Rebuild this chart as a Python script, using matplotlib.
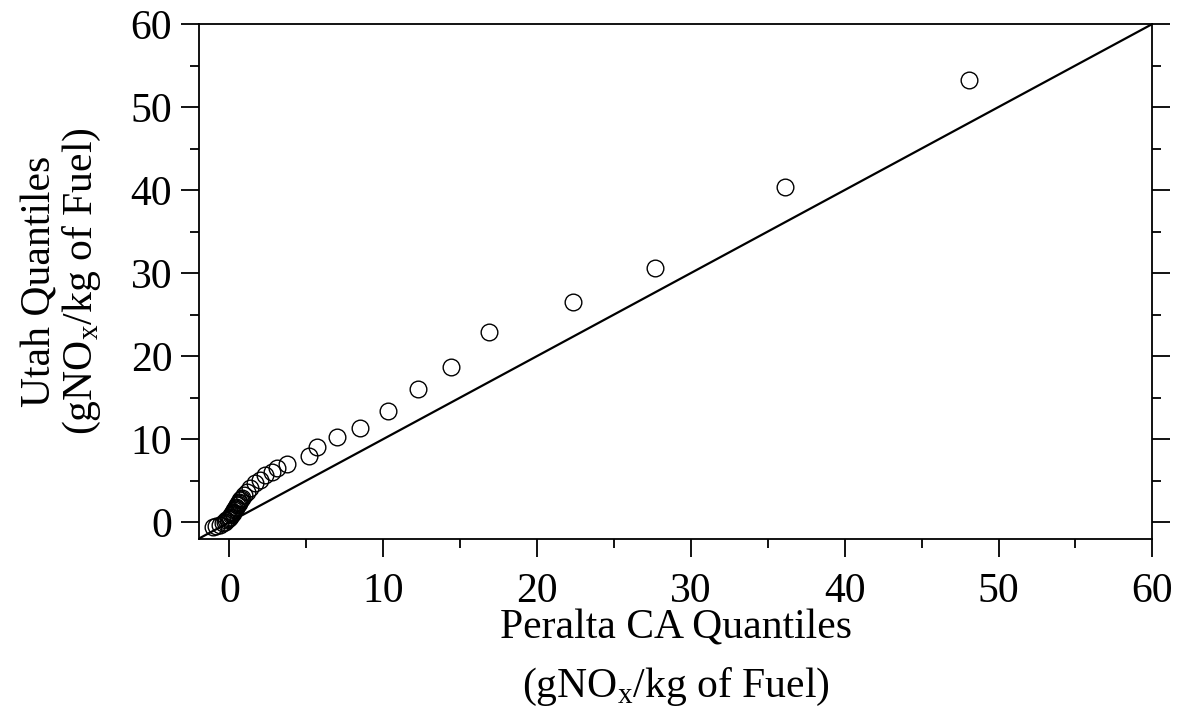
import matplotlib
matplotlib.use('Agg')
import matplotlib.pyplot as plt
from matplotlib.ticker import MultipleLocator

plt.rcParams['font.family'] = ['Liberation Serif', 'DejaVu Serif']
plt.rcParams['mathtext.fontset'] = 'custom'
plt.rcParams['mathtext.rm'] = 'Liberation Serif'

# quantiles (Peralta CA on x, Utah on y)
peralta = [-1.1, -0.9, -0.6, -0.45, -0.3, -0.2, -0.1, 0.0, 0.05, 0.1, 0.15, 0.2,
           0.25, 0.3, 0.35, 0.4, 0.45, 0.5, 0.55, 0.6, 0.65, 0.7, 0.75, 0.82,
           0.93, 1.15, 1.36, 1.69, 2.01, 2.34, 2.77, 3.1, 3.75, 5.15, 5.7,
           7.0, 8.47, 10.33, 12.28, 14.41, 16.85, 22.31, 27.68, 36.13, 48.06]
utah = [-0.6, -0.5, -0.3, -0.1, 0.05, 0.2, 0.35, 0.5, 0.65, 0.8, 0.95, 1.1,
        1.25, 1.4, 1.55, 1.7, 1.85, 2.0, 2.15, 2.3, 2.45, 2.6, 2.75, 2.9,
        3.25, 3.65, 4.06, 4.66, 5.06, 5.66, 6.06, 6.46, 6.95, 7.95, 9.0,
        10.24, 11.36, 13.37, 15.99, 18.63, 22.86, 26.47, 30.64, 40.33, 53.3]
line_ends = [-2, 60]

fig = plt.figure(figsize=(11.78, 7.06), dpi=100)
ax = fig.add_axes([0.1687, 0.237, 0.8095, 0.729])

ax.plot(line_ends, line_ends, color='black', lw=1.6)
ax.plot(peralta, utah, 'o', mfc='none', mec='black', ms=12, mew=1.0)

ax.set_xlim(-2, 60)
ax.set_ylim(-2, 60)
ax.xaxis.set_major_locator(MultipleLocator(10))
ax.xaxis.set_minor_locator(MultipleLocator(5))
ax.yaxis.set_major_locator(MultipleLocator(10))
ax.yaxis.set_minor_locator(MultipleLocator(5))
ax.tick_params(which='both', direction='out', top=False, right=True,
               labelsize=30, width=1.3, color='black')
ax.tick_params(which='major', length=13)
ax.tick_params(which='minor', length=6.5)
ax.tick_params(axis='x', pad=11)
ax.tick_params(axis='y', pad=6)
for s in ax.spines.values():
    s.set_linewidth(1.3)

ax.set_xlabel('Peralta CA Quantiles\n(gNO$_\\mathrm{x}$/kg of Fuel)',
              fontsize=30, labelpad=-1, linespacing=1.6)
ax.set_ylabel('Utah Quantiles\n(gNO$_\\mathrm{x}$/kg of Fuel)',
              fontsize=30, labelpad=20, linespacing=1.05)

fig.savefig('out.png', dpi=100)
